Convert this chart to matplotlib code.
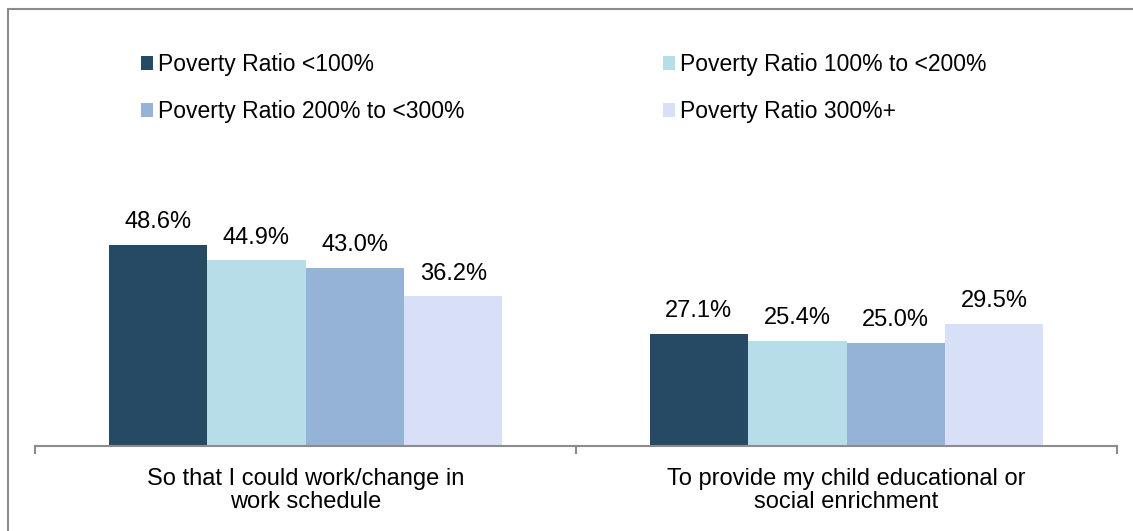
import matplotlib.pyplot as plt
import numpy as np
from matplotlib.patches import Rectangle

plt.rcParams['font.family'] = ['Liberation Sans', 'DejaVu Sans']

# data
categories = ['So that I could work/change in\nwork schedule',
              'To provide my child educational or\nsocial enrichment']
series = ['Poverty Ratio <100%', 'Poverty Ratio 100% to <200%',
          'Poverty Ratio 200% to <300%', 'Poverty Ratio 300%+']
values = [
    [48.6, 27.1],
    [44.9, 25.4],
    [43.0, 25.0],
    [36.2, 29.5],
]
colors = ['#264A63', '#B7DEE8', '#95B3D7', '#D7E0F7']

W, H = 1133, 531
fig = plt.figure(figsize=(W / 100, H / 100), dpi=100)

# outer grey frame (right/bottom edges run off the image)
fig.patches.append(Rectangle((8 / W, -0.05), 1.1, 1 - 9 / H + 0.05,
                             transform=fig.transFigure, fill=False,
                             edgecolor='#8c8c8c', linewidth=1.5))

ax = fig.add_axes([35 / W, (H - 446) / H, (1117 - 35) / W, (446 - 30) / H])

x = np.arange(len(categories))
bw = 0.182
for i, (name, vals) in enumerate(zip(series, values)):
    pos = x + (i - 1.5) * bw
    bars = ax.bar(pos, vals, width=bw, color=colors[i], label=name)
    for b, v in zip(bars, vals):
        ax.annotate(f'{v:.1f}%', (b.get_x() + b.get_width() / 2, v),
                    xytext=(0, 12), textcoords='offset points',
                    ha='center', va='baseline', fontsize=17)

ax.set_xlim(-0.5, len(categories) - 0.5)
ax.set_ylim(0, 416 / 4.136)
ax.set_yticks([])
for s in ['top', 'right', 'left']:
    ax.spines[s].set_visible(False)
ax.spines['bottom'].set_color('#8c8c8c')
ax.spines['bottom'].set_linewidth(1.5)

ax.set_xticks(x)
ax.set_xticklabels(categories, fontsize=17, linespacing=1.05)
ax.tick_params(axis='x', which='major', length=0, pad=16)
ax.set_xticks(np.arange(len(categories) + 1) - 0.5, minor=True)
ax.tick_params(axis='x', which='minor', length=5.5, width=1.5, color='#8c8c8c')

# legend filled row by row, two columns
handles, labels = ax.get_legend_handles_labels()
order = [0, 2, 1, 3]
ax.legend([handles[k] for k in order], [labels[k] for k in order],
          loc='upper left', bbox_to_anchor=(85 / (1117 - 35), 0.994), ncol=2,
          frameon=False, fontsize=16.5, handlelength=0.52, handleheight=0.6,
          handletextpad=0.22, columnspacing=8.7, labelspacing=1.05)

fig.savefig('out.png', dpi=100)
